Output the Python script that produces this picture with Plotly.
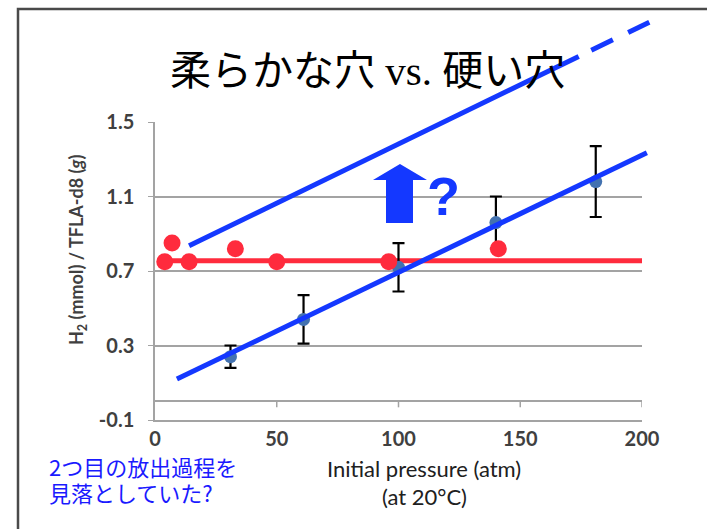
import plotly.graph_objects as go

# ---------------- data ----------------
soft_x = [4, 7, 14, 33, 50, 96, 141]
soft_y = [0.75, 0.85, 0.75, 0.82, 0.75, 0.75, 0.82]
soft_fit_x = [3, 200]
soft_fit_y = [0.755, 0.755]

hard_x = [31, 61, 100, 140, 181]
hard_y = [0.24, 0.44, 0.72, 0.96, 1.18]
hard_err = [0.06, 0.13, 0.13, 0.14, 0.19]
hard_fit_x = [9, 202]
hard_fit_y = [0.12, 1.335]

upper_solid_x = [14, 174]
upper_solid_y = [0.835, 1.852]
upper_dash_x = [174, 203]
upper_dash_y = [1.852, 2.036]

x_ticks = [0, 50, 100, 150, 200]
y_ticks = [-0.1, 0.3, 0.7, 1.1, 1.5]
x_minor_ticks = [50, 100, 150, 200]

# ---------------- geometry ----------------
W, H = 707, 529
L, R, T, B = 155, 45, 10, 109
PW, PH = W - L - R, H - T - B
PLOT_W, PLOT_H = 487, 298          # visible axes box
XMAIN = PLOT_W / PW
YMAIN = PLOT_H / PH
y2_top = -0.1 + 1.6 / YMAIN
x2_top = 200 / XMAIN


def px(xp):
    return (xp - L) / PW


def py(yp):
    return (H - B - yp) / PH


GRID = "#a3a3a3"
BLUE = "#1438ff"
RED = "#ff2b3d"
TXT = "#404040"

fig = go.Figure()

# red horizontal fit
fig.add_trace(go.Scatter(x=soft_fit_x, y=soft_fit_y, mode="lines",
                         line=dict(color=RED, width=5), xaxis="x", yaxis="y",
                         hoverinfo="skip", showlegend=False))
# tick marks at y=0 axis crossing
fig.add_trace(go.Scatter(x=x_minor_ticks, y=[0] * len(x_minor_ticks), mode="markers",
                         marker=dict(size=1, color="rgba(0,0,0,0)"),
                         error_y=dict(type="data", symmetric=False,
                                      array=[0] * len(x_minor_ticks),
                                      arrayminus=[0.032] * len(x_minor_ticks),
                                      color=GRID, thickness=1.5, width=0),
                         xaxis="x", yaxis="y", hoverinfo="skip", showlegend=False))
# hard-hole points with error bars
fig.add_trace(go.Scatter(x=hard_x, y=hard_y, mode="markers",
                         marker=dict(size=13, color="#4372b0"),
                         error_y=dict(type="data", array=hard_err, color="black",
                                      thickness=2.2, width=6),
                         xaxis="x", yaxis="y", showlegend=False))
# soft-hole points
fig.add_trace(go.Scatter(x=soft_x, y=soft_y, mode="markers",
                         marker=dict(size=17, color=RED),
                         xaxis="x", yaxis="y", showlegend=False))

# blue fit lines (extended subplot so they can leave the box)
fig.add_trace(go.Scatter(x=hard_fit_x, y=hard_fit_y, mode="lines",
                         line=dict(color=BLUE, width=5), xaxis="x2", yaxis="y2",
                         hoverinfo="skip", showlegend=False))
fig.add_trace(go.Scatter(x=upper_solid_x, y=upper_solid_y, mode="lines",
                         line=dict(color=BLUE, width=5), xaxis="x2", yaxis="y2",
                         hoverinfo="skip", showlegend=False))
fig.add_trace(go.Scatter(x=upper_dash_x, y=upper_dash_y, mode="lines",
                         line=dict(color=BLUE, width=5, dash="0px,14px,24px,17px,24px,60px"),
                         xaxis="x2", yaxis="y2",
                         hoverinfo="skip", showlegend=False))

tickfont = dict(family="Lato", size=20, color=TXT, weight="bold")

fig.update_layout(
    width=W, height=H,
    margin=dict(l=L, r=R, t=T, b=B, pad=0, autoexpand=False),
    paper_bgcolor="white", plot_bgcolor="rgba(0,0,0,0)",
    showlegend=False,
    xaxis=dict(domain=[0, XMAIN], range=[0, 200], anchor="y", automargin=False,
               tickvals=x_ticks, ticktext=[str(v) for v in x_ticks],
               showgrid=False, zeroline=False, showline=True,
               linecolor=GRID, linewidth=1.5, ticks="", tickfont=tickfont),
    yaxis=dict(domain=[0, YMAIN], range=[-0.1, 1.5], anchor="x", automargin=False,
               tickvals=y_ticks, ticktext=["-0.1", "0.3", "0.7", "1.1", "1.5"],
               showgrid=True, gridcolor=GRID, gridwidth=1.5,
               zeroline=True, zerolinecolor=GRID, zerolinewidth=1.5,
               showline=True, linecolor=GRID, linewidth=1.5,
               ticks="outside", ticklen=5, tickcolor=GRID, tickwidth=1,
               ticklabelstandoff=10, tickfont=tickfont),
    xaxis2=dict(domain=[0, 1], range=[0, x2_top], anchor="y2", visible=False,
                automargin=False),
    yaxis2=dict(domain=[0, 1], range=[-0.1, y2_top], anchor="x2", visible=False,
                automargin=False),
)

# slide frame
fig.add_shape(type="rect", xref="paper", yref="paper",
              x0=px(18), x1=px(760), y0=py(600), y1=py(9),
              line=dict(color="#4a4a4a", width=2.5), layer="below")

# big blue arrow
arrow_pts = [(400, 164), (427, 180), (413, 180), (413, 223),
             (386, 223), (386, 180), (373, 180)]
path = "M " + " L ".join(f"{px(a):.5f},{py(b):.5f}" for a, b in arrow_pts) + " Z"
fig.add_shape(type="path", xref="paper", yref="paper", path=path,
              fillcolor=BLUE, line=dict(width=0))

# title
fig.add_annotation(xref="paper", yref="paper", x=px(367), y=py(67),
                   text='柔らかな穴<span style="font-family:\'Liberation Serif\'"> vs. </span>硬い穴',
                   showarrow=False, xanchor="center", yanchor="middle",
                   font=dict(family="Noto Sans CJK JP", size=41, color="black"))
# question mark
fig.add_annotation(xref="paper", yref="paper", x=px(443), y=py(196),
                   text="?", showarrow=False, xanchor="center", yanchor="middle",
                   font=dict(family="Liberation Sans", size=54, color=BLUE, weight="bold"))
# y axis title
fig.add_annotation(xref="paper", yref="paper", x=px(77), y=py(250),
                   text="H<sub>2</sub> (mmol) / TFLA-d8 (<i>g</i>)",
                   showarrow=False, textangle=-90, xanchor="center", yanchor="middle",
                   font=dict(family="Lato", size=18, color=TXT, weight="bold"))
# x axis title
fig.add_annotation(xref="paper", yref="paper", x=px(424), y=py(468),
                   text="Initial pressure (atm)", showarrow=False,
                   xanchor="center", yanchor="middle",
                   font=dict(family="Lato", size=22, color="#202020"))
fig.add_annotation(xref="paper", yref="paper", x=px(424), y=py(496),
                   text="(at 20°C)", showarrow=False,
                   xanchor="center", yanchor="middle",
                   font=dict(family="Lato", size=22, color="#202020"))
# blue note
fig.add_annotation(xref="paper", yref="paper", x=px(47), y=py(466),
                   text="2つ目の放出過程を", showarrow=False,
                   xanchor="left", yanchor="middle",
                   font=dict(family="Noto Sans CJK JP", size=22, color="#1a1aff"))
fig.add_annotation(xref="paper", yref="paper", x=px(47), y=py(492),
                   text="見落としていた?", showarrow=False,
                   xanchor="left", yanchor="middle",
                   font=dict(family="Noto Sans CJK JP", size=22, color="#1a1aff"))

fig.write_html("out.html", config={"displayModeBar": False},
               post_script="document.body.style.margin='0px';")
